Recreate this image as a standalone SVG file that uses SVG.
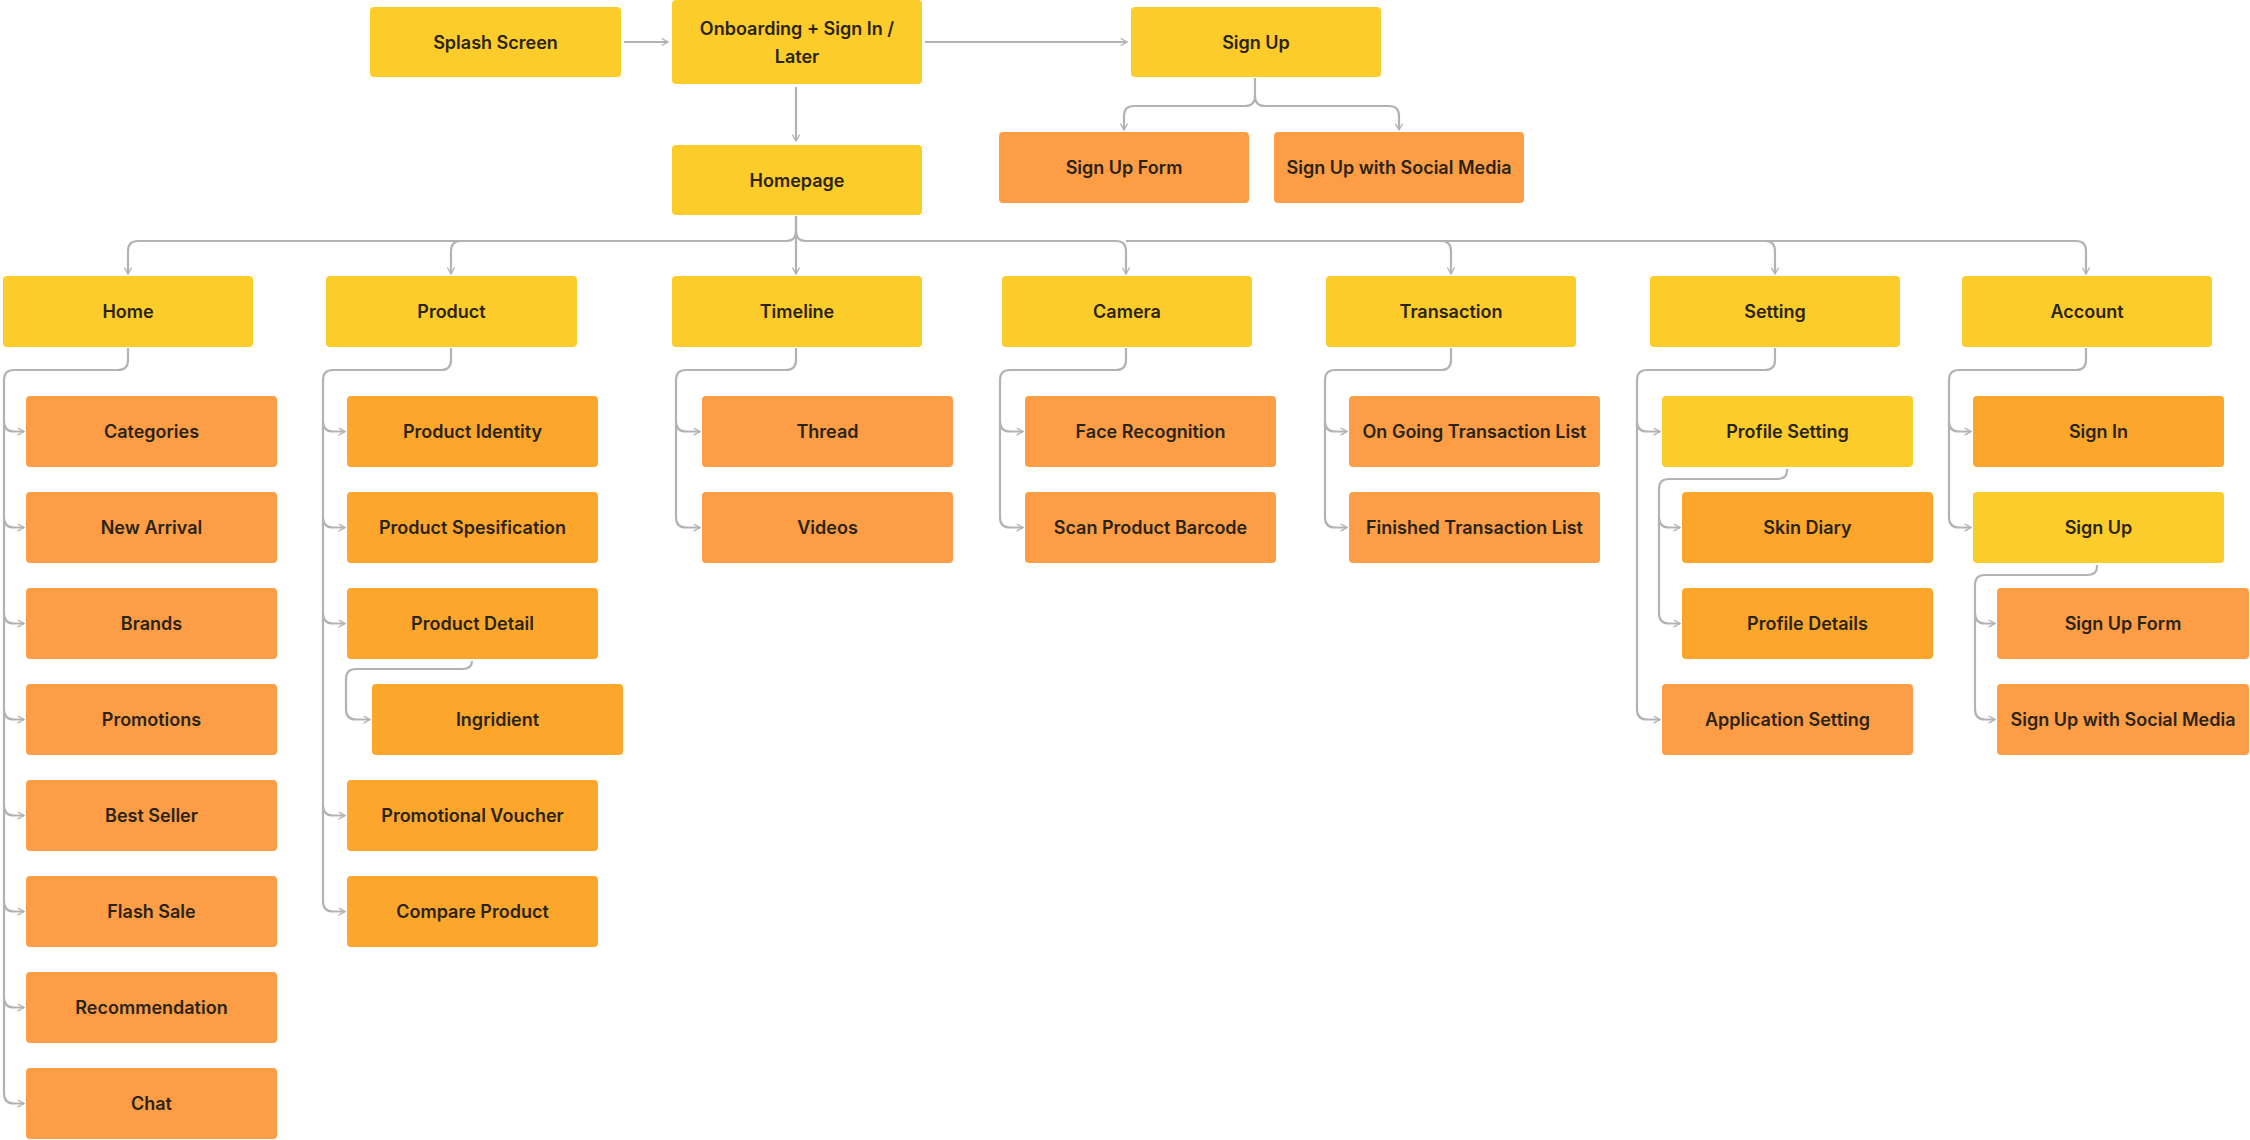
<svg xmlns="http://www.w3.org/2000/svg" width="2250" height="1140" viewBox="0 0 2250 1140">
<style>
rect{rx:4px}
.y{fill:#FCCD2A}.o{fill:#FD9D45}.d{fill:#FCA72C}
text{font-family:Inter,"Liberation Sans",sans-serif;font-weight:600;font-size:18px;fill:#2a2418;text-anchor:middle;dominant-baseline:central}
.c path{fill:none;stroke:#B3B3B3;stroke-width:2.2;marker-end:url(#a)}
</style>
<defs><marker id="a" viewBox="0 0 10 10" refX="9" refY="5" markerWidth="8" markerHeight="8" orient="auto" markerUnits="userSpaceOnUse"><path d="M1,0.5 L9,5 L1,9.5" fill="none" stroke="#B3B3B3" stroke-width="1.6"/></marker></defs>
<rect width="2250" height="1140" fill="#fff" style="rx:0"/>
<g class="c">
<path d="M624,42 H668"/><path d="M925,42 H1127"/><path d="M796,87 V141"/>
<path d="M1255,78 V96 Q1255,106 1245,106 H1134 Q1124,106 1124,116 V130"/>
<path d="M1255,96 Q1255,106 1265,106 H1389 Q1399,106 1399,116 V130"/>
<path d="M796,216 V231 Q796,241 786,241 H138 Q128,241 128,251 V274"/>
<path d="M786,241 H461 Q451,241 451,251 V274"/>
<path d="M796,216 V274"/>
<path d="M796,231 Q796,241 806,241 H1116 Q1126,241 1126,251 V274"/>
<path d="M1116,241 H1116 M1126,241 H1441 Q1451,241 1451,251 V274"/>
<path d="M1441,241 H1765 Q1775,241 1775,251 V274"/>
<path d="M1765,241 H2076 Q2086,241 2086,251 V274"/>
<!-- Home -->
<path d="M128,348 V360 Q128,370 118,370 H14 Q4,370 4,380 V1093.5 Q4,1103.5 14,1103.5 H24"/>
<path d="M4,421.5 Q4,431.5 14,431.5 H24"/><path d="M4,517.5 Q4,527.5 14,527.5 H24"/><path d="M4,613.5 Q4,623.5 14,623.5 H24"/><path d="M4,709.5 Q4,719.5 14,719.5 H24"/><path d="M4,805.5 Q4,815.5 14,815.5 H24"/><path d="M4,901.5 Q4,911.5 14,911.5 H24"/><path d="M4,997.5 Q4,1007.5 14,1007.5 H24"/>
<!-- Product -->
<path d="M451,348 V360 Q451,370 441,370 H333 Q323,370 323,380 V901.5 Q323,911.5 333,911.5 H345"/>
<path d="M323,421.5 Q323,431.5 333,431.5 H345"/><path d="M323,517.5 Q323,527.5 333,527.5 H345"/><path d="M323,613.5 Q323,623.5 333,623.5 H345"/><path d="M323,805.5 Q323,815.5 333,815.5 H345"/>
<path d="M472,661 V661 Q472,669 462,669 H356 Q346,669 346,679 V709.5 Q346,719.5 356,719.5 H370"/>
<!-- Timeline -->
<path d="M796,348 V360 Q796,370 786,370 H686 Q676,370 676,380 V517.5 Q676,527.5 686,527.5 H700"/><path d="M676,421.5 Q676,431.5 686,431.5 H700"/>
<!-- Camera -->
<path d="M1126,348 V360 Q1126,370 1116,370 H1010 Q1000,370 1000,380 V517.5 Q1000,527.5 1010,527.5 H1023"/><path d="M1000,421.5 Q1000,431.5 1010,431.5 H1023"/>
<!-- Transaction -->
<path d="M1451,348 V360 Q1451,370 1441,370 H1335 Q1325,370 1325,380 V517.5 Q1325,527.5 1335,527.5 H1347"/><path d="M1325,421.5 Q1325,431.5 1335,431.5 H1347"/>
<!-- Setting -->
<path d="M1775,348 V360 Q1775,370 1765,370 H1647 Q1637,370 1637,380 V709.5 Q1637,719.5 1647,719.5 H1660"/><path d="M1637,421.5 Q1637,431.5 1647,431.5 H1660"/>
<path d="M1787,469 V471 Q1787,479 1777,479 H1669 Q1659,479 1659,489 V613.5 Q1659,623.5 1669,623.5 H1680"/><path d="M1659,517.5 Q1659,527.5 1669,527.5 H1680"/>
<!-- Account -->
<path d="M2086,348 V360 Q2086,370 2076,370 H1959 Q1949,370 1949,380 V517.5 Q1949,527.5 1959,527.5 H1971"/><path d="M1949,421.5 Q1949,431.5 1959,431.5 H1971"/>
<path d="M2097,565 V567 Q2097,575 2087,575 H1985 Q1975,575 1975,585 V709.5 Q1975,719.5 1985,719.5 H1995"/><path d="M1975,613.5 Q1975,623.5 1985,623.5 H1995"/>
</g>
<g id="splash"><rect class="y" x="370" y="7" width="251" height="70"/><text x="495.5" y="42">Splash Screen</text></g>
<g id="onboarding"><rect class="y" x="672" y="0" width="250" height="84"/><text x="797" y="28">Onboarding + Sign In /</text><text x="797" y="56">Later</text></g>
<g id="signup-top"><rect class="y" x="1131" y="7" width="250" height="70"/><text x="1256" y="42">Sign Up</text></g>
<g id="signup-form-top"><rect class="o" x="999" y="132" width="250" height="71"/><text x="1124" y="167.5">Sign Up Form</text></g>
<g id="signup-social-top"><rect class="o" x="1274" y="132" width="250" height="71"/><text x="1399" y="167.5">Sign Up with Social Media</text></g>
<g id="homepage"><rect class="y" x="672" y="145" width="250" height="70"/><text x="797" y="180">Homepage</text></g>
<g id="home"><rect class="y" x="3" y="276" width="250" height="71"/><text x="128" y="311.5">Home</text></g>
<g id="product"><rect class="y" x="326" y="276" width="251" height="71"/><text x="451.5" y="311.5">Product</text></g>
<g id="timeline"><rect class="y" x="672" y="276" width="250" height="71"/><text x="797" y="311.5">Timeline</text></g>
<g id="camera"><rect class="y" x="1002" y="276" width="250" height="71"/><text x="1127" y="311.5">Camera</text></g>
<g id="transaction"><rect class="y" x="1326" y="276" width="250" height="71"/><text x="1451" y="311.5">Transaction</text></g>
<g id="setting"><rect class="y" x="1650" y="276" width="250" height="71"/><text x="1775" y="311.5">Setting</text></g>
<g id="account"><rect class="y" x="1962" y="276" width="250" height="71"/><text x="2087" y="311.5">Account</text></g>
<g id="categories"><rect class="o" x="26" y="396" width="251" height="71"/><text x="151.5" y="431.5">Categories</text></g>
<g id="new-arrival"><rect class="o" x="26" y="492" width="251" height="71"/><text x="151.5" y="527.5">New Arrival</text></g>
<g id="brands"><rect class="o" x="26" y="588" width="251" height="71"/><text x="151.5" y="623.5">Brands</text></g>
<g id="promotions"><rect class="o" x="26" y="684" width="251" height="71"/><text x="151.5" y="719.5">Promotions</text></g>
<g id="best-seller"><rect class="o" x="26" y="780" width="251" height="71"/><text x="151.5" y="815.5">Best Seller</text></g>
<g id="flash-sale"><rect class="o" x="26" y="876" width="251" height="71"/><text x="151.5" y="911.5">Flash Sale</text></g>
<g id="recommendation"><rect class="o" x="26" y="972" width="251" height="71"/><text x="151.5" y="1007.5">Recommendation</text></g>
<g id="chat"><rect class="o" x="26" y="1068" width="251" height="71"/><text x="151.5" y="1103.5">Chat</text></g>
<g id="product-identity"><rect class="d" x="347" y="396" width="251" height="71"/><text x="472.5" y="431.5">Product Identity</text></g>
<g id="product-spec"><rect class="d" x="347" y="492" width="251" height="71"/><text x="472.5" y="527.5">Product Spesification</text></g>
<g id="product-detail"><rect class="d" x="347" y="588" width="251" height="71"/><text x="472.5" y="623.5">Product Detail</text></g>
<g id="ingridient"><rect class="d" x="372" y="684" width="251" height="71"/><text x="497.5" y="719.5">Ingridient</text></g>
<g id="promo-voucher"><rect class="d" x="347" y="780" width="251" height="71"/><text x="472.5" y="815.5">Promotional Voucher</text></g>
<g id="compare-product"><rect class="d" x="347" y="876" width="251" height="71"/><text x="472.5" y="911.5">Compare Product</text></g>
<g id="thread"><rect class="o" x="702" y="396" width="251" height="71"/><text x="827.5" y="431.5">Thread</text></g>
<g id="videos"><rect class="o" x="702" y="492" width="251" height="71"/><text x="827.5" y="527.5">Videos</text></g>
<g id="face-recognition"><rect class="o" x="1025" y="396" width="251" height="71"/><text x="1150.5" y="431.5">Face Recognition</text></g>
<g id="scan-barcode"><rect class="o" x="1025" y="492" width="251" height="71"/><text x="1150.5" y="527.5">Scan Product Barcode</text></g>
<g id="ongoing"><rect class="o" x="1349" y="396" width="251" height="71"/><text x="1474.5" y="431.5">On Going Transaction List</text></g>
<g id="finished"><rect class="o" x="1349" y="492" width="251" height="71"/><text x="1474.5" y="527.5">Finished Transaction List</text></g>
<g id="profile-setting"><rect class="y" x="1662" y="396" width="251" height="71"/><text x="1787.5" y="431.5">Profile Setting</text></g>
<g id="skin-diary"><rect class="d" x="1682" y="492" width="251" height="71"/><text x="1807.5" y="527.5">Skin Diary</text></g>
<g id="profile-details"><rect class="d" x="1682" y="588" width="251" height="71"/><text x="1807.5" y="623.5">Profile Details</text></g>
<g id="app-setting"><rect class="o" x="1662" y="684" width="251" height="71"/><text x="1787.5" y="719.5">Application Setting</text></g>
<g id="sign-in"><rect class="d" x="1973" y="396" width="251" height="71"/><text x="2098.5" y="431.5">Sign In</text></g>
<g id="sign-up"><rect class="y" x="1973" y="492" width="251" height="71"/><text x="2098.5" y="527.5">Sign Up</text></g>
<g id="sign-up-form"><rect class="o" x="1997" y="588" width="252" height="71"/><text x="2123" y="623.5">Sign Up Form</text></g>
<g id="sign-up-social"><rect class="o" x="1997" y="684" width="252" height="71"/><text x="2123" y="719.5">Sign Up with Social Media</text></g>
</svg>
